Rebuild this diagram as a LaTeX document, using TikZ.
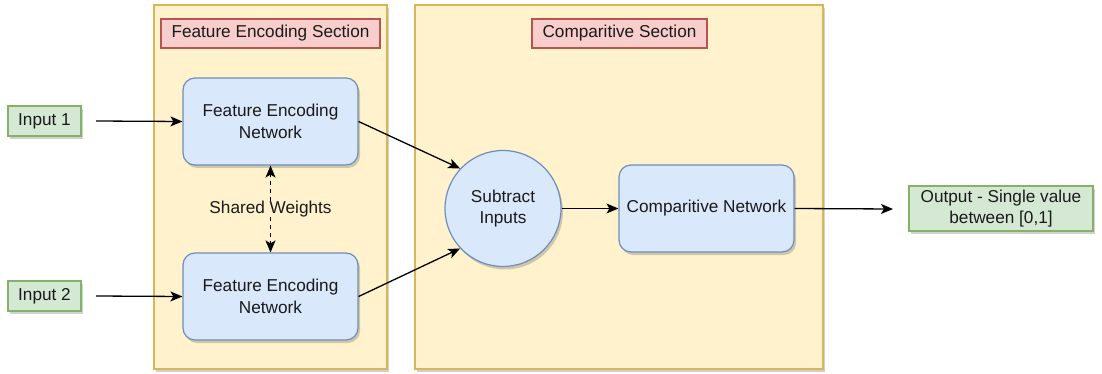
\documentclass[tikz,border=0pt]{standalone}
\usepackage{fontspec}
\setmainfont{Liberation Sans}
\usetikzlibrary{arrows.meta,shadows}
\definecolor{yfill}{HTML}{FFF2CC}\definecolor{ydraw}{HTML}{D6B656}
\definecolor{rfill}{HTML}{F8CECC}\definecolor{rdraw}{HTML}{B85450}
\definecolor{bfill}{HTML}{DAE8FC}\definecolor{bdraw}{HTML}{6C8EBF}
\definecolor{gfill}{HTML}{D5E8D4}\definecolor{gdraw}{HTML}{82B366}
\definecolor{txt}{HTML}{1A1A1A}
\begin{document}
\begin{tikzpicture}[x=1pt,y=-1pt,
  every node/.style={font=\fontsize{17.2}{21.5}\selectfont, text=txt, align=center, inner sep=0pt},
  shad/.style={drop shadow={shadow xshift=2pt,shadow yshift=-3pt,fill=black,opacity=0.18}},
  section/.style={draw=ydraw,fill=yfill,line width=1.2pt,shad},
  titlebox/.style={draw=rdraw,fill=rfill,line width=1.2pt},
  netbox/.style={draw=bdraw,fill=bfill,line width=1.2pt,rounded corners=12pt,shad},
  iobox/.style={draw=gdraw,fill=gfill,line width=1.2pt,shad},
  conn/.style={-{Stealth[length=12pt,width=10pt,inset=3pt]},line width=1.3pt,black}]
\path[use as bounding box] (0,0) rectangle (1102,374);
\node[section,minimum width=233pt,minimum height=364pt] (sec1) at (270.5,187) {};
\node[section,minimum width=408pt,minimum height=364pt] (sec2) at (619,187) {};
\node[titlebox,minimum width=219pt,minimum height=29pt] (t1) at (270.5,33.5) {Feature Encoding Section};
\node[titlebox,minimum width=175pt,minimum height=29pt] (t2) at (619.5,33.5) {Comparitive Section};
\node[netbox,minimum width=175pt,minimum height=87pt] (fen1) at (270.5,121.5) {Feature Encoding\\Network};
\node[netbox,minimum width=175pt,minimum height=87pt] (fen2) at (270.5,296.5) {Feature Encoding\\Network};
\node[iobox,minimum width=73pt,minimum height=30pt] (in1) at (44.5,121) {Input 1};
\node[iobox,minimum width=73pt,minimum height=30pt] (in2) at (44.5,296) {Input 2};
\node[circle,draw=bdraw,fill=bfill,line width=1.2pt,minimum size=116pt,shad] (sub) at (503,208.5) {Subtract\\Inputs};
\node[netbox,minimum width=175pt,minimum height=87pt] (cn) at (706.5,208.5) {Comparitive Network};
\node[iobox,minimum width=184pt,minimum height=45pt] (out) at (1001,208.5) {Output - Single value\\between [0,1]};
\node (sw) at (270.5,209) {Shared Weights};
\coordinate (in1s) at (96,121);
\coordinate (in2s) at (96,296);
\coordinate (oute) at (893,209);
\draw[conn] (in1s) -- (fen1.west);
\draw[conn] (in2s) -- (fen2.west);
\draw[conn] (fen1.east) -- (sub.137);
\draw[conn] (fen2.east) -- (sub.-137);
\draw[conn] (sub.east) -- (cn.west);
\draw[conn] (cn.east) -- (oute);
\draw[conn,dash pattern=on 4pt off 4pt] (sw.north) -- (fen1.south);
\draw[conn,dash pattern=on 4pt off 4pt] (sw.south) -- (fen2.north);
\end{tikzpicture}
\end{document}
